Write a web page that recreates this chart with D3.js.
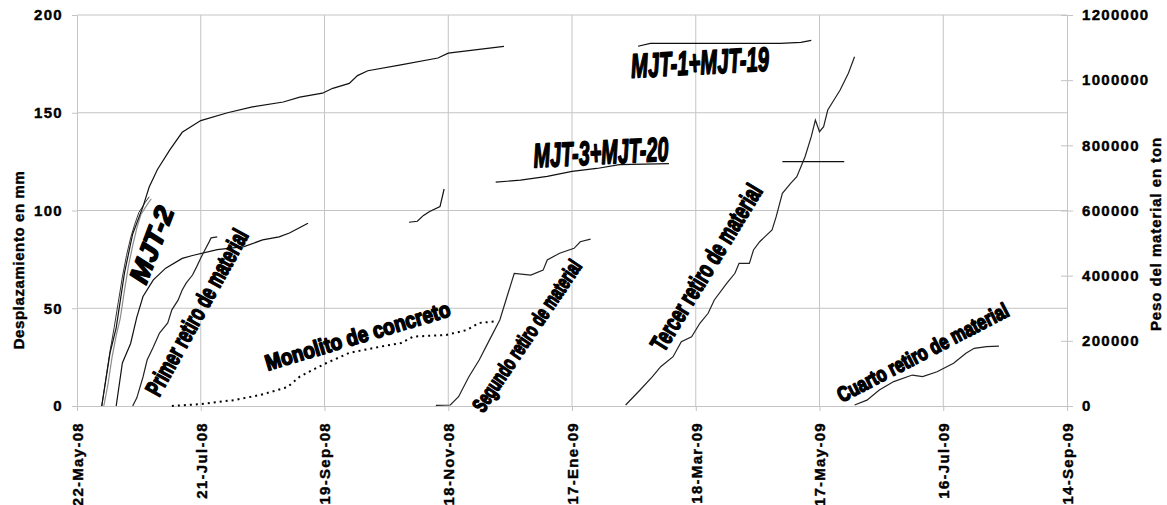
<!DOCTYPE html>
<html>
<head>
<meta charset="utf-8">
<script src="https://cdn.jsdelivr.net/npm/d3@7"></script>
<style>
  body { margin: 0; background: #fff; }
  text { font-family: "Liberation Sans", Arial, sans-serif; font-weight: bold; }
</style>
</head>
<body>
<script>
// ---- data ----
const tickDates  = ["2008-05-22","2008-07-21","2008-09-19","2008-11-18","2009-01-17","2009-03-18","2009-05-17","2009-07-16","2009-09-14"];
const tickLabels = ["22-May-08","21-Jul-08","19-Sep-08","18-Nov-08","17-Ene-09","18-Mar-09","17-May-09","16-Jul-09","14-Sep-09"];
const mmTicks  = [0, 50, 100, 150, 200];
const tonTicks = [0, 200000, 400000, 600000, 800000, 1000000, 1200000];

// displacement, mm (left axis); null = gap in the record
const mjt2 = [["2008-06-04",0],["2008-06-06",11],["2008-06-08",25],["2008-06-10",36],["2008-06-12",45],["2008-06-14",59],
  ["2008-06-16",72],["2008-06-18",82],["2008-06-20",91],["2008-06-22",98],["2008-06-25",103],["2008-06-27",106]];
const mjt2b = [["2008-06-03",0],["2008-06-05",14],["2008-06-07",28],["2008-06-09",40],["2008-06-11",53],["2008-06-13",66],
  ["2008-06-15",77],["2008-06-17",86],["2008-06-19",93],["2008-06-21",99],["2008-06-24",104],["2008-06-26",107]];
const mjt1mjt19 = [["2008-06-03",0],["2008-06-07",27],["2008-06-10",40],["2008-06-14",68],["2008-06-18",88],["2008-06-23",102],
  ["2008-06-26",112],["2008-06-30",121],["2008-07-06",131],["2008-07-12",140],["2008-07-21",146],["2008-08-03",150],
  ["2008-08-15",153],["2008-08-30",155.5],["2008-09-07",158],["2008-09-18",160],["2008-09-23",162.5],["2008-10-01",165],
  ["2008-10-05",169],["2008-10-10",171.5],["2008-10-26",174.5],["2008-11-13",178],["2008-11-18",180.5],["2008-12-15",184],
  ["2009-01-20",null],["2009-02-18",184],["2009-02-24",185.5],["2009-03-26",185.5],["2009-04-28",185.5],["2009-05-08",186],["2009-05-13",187]];
const mjt3mjt20 = [["2008-06-10",0],["2008-06-13",22],["2008-06-17",32],["2008-06-20",45.5],["2008-06-23",56],["2008-06-28",64.5],
  ["2008-07-04",70.5],["2008-07-12",75.5],["2008-07-17",77],["2008-07-29",80],["2008-08-11",81.5],["2008-08-20",85],
  ["2008-08-28",86.5],["2008-09-02",88.5],["2008-09-11",93.5],["2008-10-15",null],["2008-10-30",94],["2008-11-03",94.5],
  ["2008-11-06",97.5],["2008-11-09",99.5],["2008-11-14",102],["2008-11-16",111],["2008-11-30",null],["2008-12-11",114.5],
  ["2008-12-23",115.5],["2009-01-05",117.5],["2009-01-17",120],["2009-01-29",121.5],["2009-02-09",123.5],["2009-03-05",124],
  ["2009-04-01",null],["2009-04-29",125],["2009-05-29",125]];

// material weight, ton (right axis)
const primerRetiro = [["2008-06-18",0],["2008-06-20",25000],["2008-06-23",89000],["2008-06-25",141000],["2008-06-28",181000],
  ["2008-07-01",224000],["2008-07-05",255000],["2008-07-07",295000],["2008-07-10",325000],["2008-07-12",356000],
  ["2008-07-14",378000],["2008-07-17",402000],["2008-07-19",427000],["2008-07-21",454000],["2008-07-23",479000],
  ["2008-07-25",503000],["2008-07-26",516000],["2008-07-29",519000]];
const monolito = [["2008-07-07",0],["2008-07-21",6000],["2008-08-06",18000],["2008-08-19",34000],["2008-09-01",58000],
  ["2008-09-07",90000],["2008-09-13",110000],["2008-09-20",132000],["2008-10-01",163000],["2008-10-16",182000],
  ["2008-10-26",193000],["2008-11-01",213000],["2008-11-17",218000],["2008-11-27",233000],["2008-12-03",255000],["2008-12-10",259000]];
const segundoRetiro = [["2008-11-12",2000],["2008-11-19",3000],["2008-11-23",28500],["2008-11-28",90000],["2008-12-03",141000],
  ["2008-12-08",203000],["2008-12-13",264000],["2008-12-17",346000],["2008-12-20",407000],["2008-12-28",402000],
  ["2009-01-03",417000],["2009-01-05",448000],["2009-01-11",469000],["2009-01-18",484000],["2009-01-21",504000],["2009-01-26",512000]];
const tercerRetiro = [["2009-02-12",3000],["2009-02-19",49000],["2009-02-25",90000],["2009-03-01",120600],["2009-03-07",151300],
  ["2009-03-11",197300],["2009-03-16",212700],["2009-03-20",253800],["2009-03-24",284500],["2009-03-27",325300],
  ["2009-04-02",376600],["2009-04-06",407300],["2009-04-08",437900],["2009-04-13",437900],["2009-04-15",478800],
  ["2009-04-18",504200],["2009-04-24",540100],["2009-04-26",581000],["2009-04-29",652800],["2009-05-03",683500],
  ["2009-05-06",703700],["2009-05-10",765100],["2009-05-13",826500],["2009-05-15",877700],["2009-05-17",841800],
  ["2009-05-19",857200],["2009-05-21",908400],["2009-05-24",939000],["2009-05-27",969800],["2009-05-31",1021000],["2009-06-03",1072000]];
const cuartoRetiro = [["2009-06-03",3000],["2009-06-09",18000],["2009-06-15",49000],["2009-06-22",75000],["2009-07-01",95000],
  ["2009-07-06",90000],["2009-07-13",105000],["2009-07-21",131000],["2009-07-27",162000],["2009-07-31",177000],
  ["2009-08-06",182000],["2009-08-12",184000]];

// annotation texts and where they sit (date, mm)
const labelTexts = ["MJT-2","Primer retiro de material","Monolito de concreto","Segundo retiro de material",
  "MJT-3+MJT-20","MJT-1+MJT-19","Tercer retiro de material","Cuarto retiro de material"];
const labelAt = [["2008-06-27",82.5],["2008-07-19",48],["2008-10-05",36],["2008-12-26",36],
  ["2009-01-31",130],["2009-03-20",176],["2009-03-23",71],["2009-07-06",27.5]];

// ---- layout ----
const W = 1167, H = 505;
const mLeft = 77, mRight = 1067, mTop = 15, mBottom = 406;
const parse = d3.utcParse("%Y-%m-%d");

const x = d3.scaleUtc().domain([parse(tickDates[0]), parse(tickDates[tickDates.length - 1])]).range([mLeft, mRight]);
const yL = d3.scaleLinear().domain([0, 200]).range([mBottom, mTop]);
const yR = d3.scaleLinear().domain([0, 1200000]).range([mBottom, mTop]);

const grey = "#c4c4c4";

const svg = d3.select("body").append("svg")
  .attr("width", W).attr("height", H)
  .style("display", "block");

// gridlines
svg.append("g").selectAll("line")
  .data(mmTicks.slice(1))
  .join("line")
  .attr("x1", mLeft).attr("x2", mRight)
  .attr("y1", d => yL(d)).attr("y2", d => yL(d))
  .attr("stroke", grey).attr("stroke-width", 1);
svg.append("g").selectAll("line")
  .data(tickDates.slice(1, -1))
  .join("line")
  .attr("x1", d => x(parse(d))).attr("x2", d => x(parse(d)))
  .attr("y1", mTop).attr("y2", mBottom)
  .attr("stroke", grey).attr("stroke-width", 1);

// axes
const axisStyle = g => {
  g.select(".domain").attr("stroke", grey);
  g.selectAll(".tick line").attr("stroke", grey);
  g.selectAll(".tick text")
    .attr("fill", "#000")
    .attr("stroke", "#000").attr("stroke-width", 0.4)
    .style("font-size", "15px")
    .style("letter-spacing", "1.3px")
    .style("font-family", "'Liberation Sans', Arial, sans-serif")
    .style("font-weight", "bold");
};

svg.append("g")
  .attr("transform", `translate(${mLeft},0)`)
  .call(d3.axisLeft(yL).tickValues(mmTicks).tickSize(5).tickSizeOuter(0).tickPadding(9))
  .call(axisStyle);

const rAxis = svg.append("g")
  .attr("transform", `translate(${mRight},0)`)
  .call(d3.axisRight(yR).tickValues(tonTicks).tickFormat(d3.format("d")).tickSize(6).tickSizeOuter(0).tickPadding(9))
  .call(axisStyle);
rAxis.selectAll(".tick line").attr("x1", -6);

const xAxis = svg.append("g")
  .attr("transform", `translate(0,${mBottom})`)
  .call(d3.axisBottom(x).tickValues(tickDates.map(parse)).tickFormat((d, i) => tickLabels[i]).tickSize(5).tickSizeOuter(0))
  .call(axisStyle);
xAxis.selectAll(".tick text")
  .attr("transform", "rotate(-90)")
  .attr("text-anchor", "end")
  .attr("x", -16).attr("y", 0).attr("dy", "0.36em");

// axis titles
svg.append("text")
  .attr("transform", "translate(24,260) rotate(-90)")
  .attr("text-anchor", "middle")
  .attr("stroke", "#000").attr("stroke-width", 0.4)
  .style("font-size", "15px").style("letter-spacing", "0.6px")
  .text("Desplazamiento en mm");
svg.append("text")
  .attr("transform", "translate(1161,234) rotate(-90)")
  .attr("text-anchor", "middle")
  .attr("stroke", "#000").attr("stroke-width", 0.4)
  .style("font-size", "15px").style("letter-spacing", "0.9px")
  .text("Peso del material en ton");

// series
const series = [
  {data: mjt2,          y: yL, color: "#8c8c8c", w: 1.2},
  {data: mjt2b,         y: yL, color: "#333",    w: 1},
  {data: mjt1mjt19,     y: yL, color: "#111",    w: 1.2},
  {data: mjt3mjt20,     y: yL, color: "#111",    w: 1.2},
  {data: primerRetiro,  y: yR, color: "#222",    w: 1.2},
  {data: monolito,      y: yR, color: "#000",    w: 2, dash: "2,4"},
  {data: segundoRetiro, y: yR, color: "#222",    w: 1.2},
  {data: tercerRetiro,  y: yR, color: "#222",    w: 1.2},
  {data: cuartoRetiro,  y: yR, color: "#222",    w: 1.2}
];

series.forEach(s => {
  const line = d3.line()
    .defined(d => d[1] !== null)
    .x(d => x(parse(d[0])))
    .y(d => s.y(d[1]));
  svg.append("path")
    .datum(s.data)
    .attr("fill", "none")
    .attr("stroke", s.color)
    .attr("stroke-width", s.w)
    .attr("stroke-dasharray", s.dash || null)
    .attr("d", line);
});

// word-art style annotations
const labelStyle = [
  {angle: -69,   len: 80,  size: 27, italic: true},
  {angle: -61,   len: 186, size: 24},
  {angle: -16.6, len: 192, size: 22},
  {angle: -56,   len: 178, size: 21},
  {angle: -3,    len: 135, size: 34, italic: true},
  {angle: -3,    len: 138, size: 34, italic: true},
  {angle: -58.5, len: 190, size: 25},
  {angle: -27.4, len: 190, size: 21}
];

labelTexts.forEach((t, i) => {
  const st = labelStyle[i];
  const cx = x(parse(labelAt[i][0]));
  const cy = yL(labelAt[i][1]);
  svg.append("text")
    .attr("transform", `translate(${cx},${cy}) rotate(${st.angle})`)
    .attr("text-anchor", "middle")
    .attr("dy", "0.36em")
    .attr("textLength", st.len)
    .attr("lengthAdjust", "spacingAndGlyphs")
    .attr("fill", "#000")
    .attr("stroke", "#000")
    .attr("stroke-width", 1.6)
    .attr("stroke-linejoin", "round")
    .style("font-size", st.size + "px")
    .style("font-style", st.italic ? "italic" : "normal")
    .text(t);
});
</script>
</body>
</html>
